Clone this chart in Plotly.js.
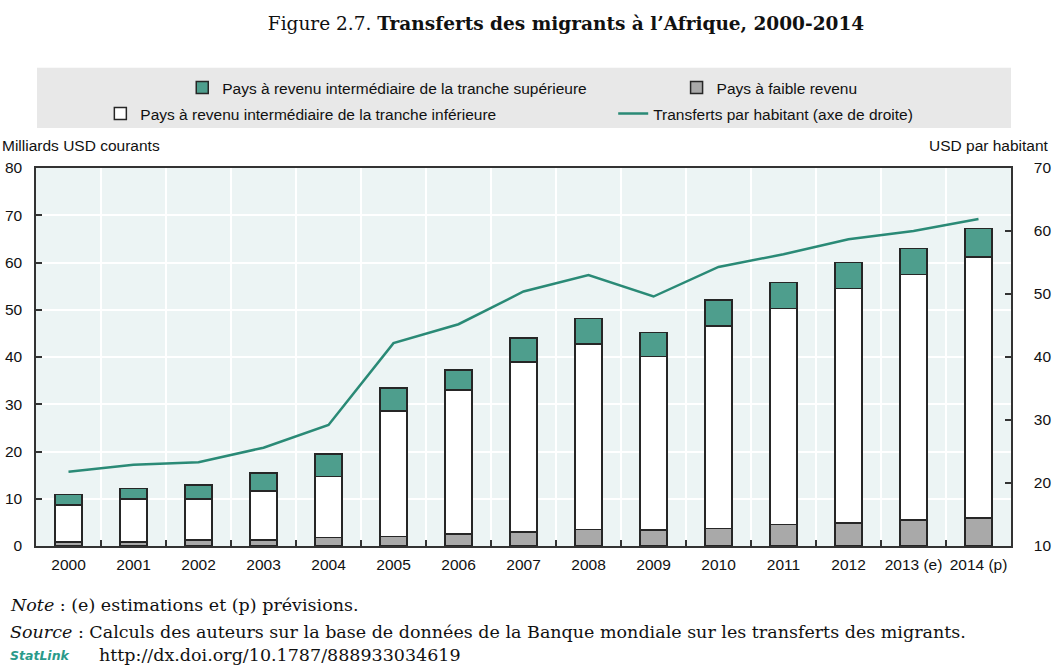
<!DOCTYPE html>
<html>
<head>
<meta charset="utf-8">
<script src="https://cdn.plot.ly/plotly-3.0.1.min.js"></script>
<style>html,body{margin:0;padding:0;background:#fff;} #chart{width:1054px;height:668px;}</style>
</head>
<body>
<div id="chart"></div>
<script>
// ---- Data ----
const years = ["2000","2001","2002","2003","2004","2005","2006","2007","2008","2009","2010","2011","2012","2013 (e)","2014 (p)"];
// Cumulative stack levels (billions USD)
const lowIncome      = [0.85, 0.9, 1.3, 1.3, 1.8, 2.0, 2.5, 3.0, 3.5, 3.4, 3.7, 4.6, 4.9, 5.5, 5.9];
const lowerMiddleTop = [8.7, 9.9, 9.9, 11.6, 14.7, 28.6, 33.0, 38.9, 42.8, 40.1, 46.6, 50.3, 54.5, 57.5, 61.2];
const totalTop       = [10.9, 12.2, 12.9, 15.4, 19.5, 33.4, 37.2, 44.0, 48.2, 45.2, 52.1, 55.8, 60.0, 63.0, 67.2];
// Remittances per capita (USD, right axis)
const perCapita      = [21.8, 22.9, 23.3, 25.6, 29.2, 42.2, 45.2, 50.4, 53.0, 49.6, 54.3, 56.3, 58.7, 60.0, 61.9];

const lowerMiddle = lowerMiddleTop.map((v, i) => +(v - lowIncome[i]).toFixed(2));
const upperMiddle = totalTop.map((v, i) => +(v - lowerMiddleTop[i]).toFixed(2));

const names = {
  upper: "Pays à revenu intermédiaire de la tranche supérieure",
  low: "Pays à faible revenu",
  lower: "Pays à revenu intermédiaire de la tranche inférieure",
  line: "Transferts par habitant (axe de droite)"
};

const C = { teal: "#4e9e8d", gray: "#a9a9a9", line: "#2a8a76", outline: "#262626", bg: "#ecf4f4", text: "#111111" };
const sansF = "'Liberation Sans', Arial, sans-serif";
const serifF = "'DejaVu Serif', 'Liberation Serif', serif";

const barOutline = { color: C.outline, width: 1.5 };
const traces = [
  { type: "bar", x: years, y: lowIncome, name: names.low, marker: { color: C.gray, line: barOutline }, legend: "legend2" },
  { type: "bar", x: years, y: lowerMiddle, name: names.lower, marker: { color: "#ffffff", line: barOutline }, legend: "legend3" },
  { type: "bar", x: years, y: upperMiddle, name: names.upper, marker: { color: C.teal, line: barOutline }, legend: "legend" },
  { type: "scatter", mode: "lines", x: years, y: perCapita, yaxis: "y2", name: names.line, line: { color: C.line, width: 2.5 }, legend: "legend4" }
];

const legFont = { family: sansF, size: 15.5, color: C.text };
function leg(x, y) {
  return { orientation: "h", x: x, xanchor: "left", y: y, yanchor: "middle", bgcolor: "rgba(0,0,0,0)", font: legFont };
}
const tickF = { family: sansF, size: 15.5, color: C.text };
const noteF = { family: serifF, size: 17.5, color: C.text };

const layout = {
  width: 1054, height: 668,
  margin: { l: 36, r: 43, t: 168, b: 122 },
  paper_bgcolor: "#ffffff",
  plot_bgcolor: C.bg,
  barmode: "stack",
  bargap: 0.58,
  showlegend: true,
  title: {
    text: "Figure 2.7. <b>Transferts des migrants à l’Afrique, 2000-2014</b>",
    font: { family: serifF, size: 18.5, color: C.text },
    x: 0.537, xanchor: "center", xref: "container",
    y: 0.965, yanchor: "middle", yref: "container"
  },
  legend: leg(0.150, 1.2116),
  legend2: leg(0.657, 1.2116),
  legend3: leg(0.066, 1.143),
  legend4: leg(0.592, 1.143),
  xaxis: {
    type: "category",
    tickson: "boundaries",
    tickangle: 0,
    ticks: "inside", ticklen: 6, tickcolor: "#333", tickwidth: 1.5,
    showgrid: true, gridcolor: "#ffffff", gridwidth: 1.5,
    showline: true, linecolor: "#333", linewidth: 1.5, mirror: true,
    tickfont: tickF, ticklabelstandoff: 4
  },
  yaxis: {
    range: [0, 80], dtick: 10, tick0: 0,
    ticks: "inside", ticklen: 6, tickcolor: "#333", tickwidth: 1.5,
    showgrid: true, gridcolor: "#ffffff", gridwidth: 1.5,
    zeroline: false,
    showline: true, linecolor: "#333", linewidth: 1.5, mirror: true,
    tickfont: tickF, ticklabelstandoff: 9
  },
  yaxis2: {
    range: [10, 70], dtick: 10, tick0: 10,
    overlaying: "y", side: "right",
    ticks: "inside", ticklen: 6, tickcolor: "#333", tickwidth: 1.5,
    showgrid: false, zeroline: false,
    showline: true, linecolor: "#333", linewidth: 1.5,
    tickfont: tickF, ticklabelstandoff: 18
  },
  shapes: [
    { type: "rect", xref: "paper", yref: "paper", x0: 0.001, x1: 1.0, y0: 1.106, y1: 1.265,
      fillcolor: "#e8e8e8", line: { width: 0 }, layer: "below" }
  ],
  annotations: [
    { text: "Milliards USD courants", xref: "paper", yref: "paper", x: -0.037, y: 1.06, xanchor: "left", yanchor: "middle",
      showarrow: false, font: tickF },
    { text: "USD par habitant", xref: "paper", yref: "paper", x: 1.041, y: 1.06, xanchor: "right", yanchor: "middle",
      showarrow: false, font: tickF },
    { text: "<i>Note</i> : (e) estimations et (p) prévisions.", xref: "paper", yref: "paper", x: -0.029, y: -0.156,
      xanchor: "left", yanchor: "middle", showarrow: false, font: noteF },
    { text: "<i>Source</i> : Calculs des auteurs sur la base de données de la Banque mondiale sur les transferts des migrants.",
      xref: "paper", yref: "paper", x: -0.029, y: -0.228, xanchor: "left", yanchor: "middle", showarrow: false,
      font: noteF },
    { text: "<i><b>StatLink</b></i>", xref: "paper", yref: "paper", x: -0.029, y: -0.289, xanchor: "left", yanchor: "middle",
      showarrow: false, font: { family: "'DejaVu Sans', sans-serif", size: 12.5, color: "#2a9a8a" } },
    { text: "http://dx.doi.org/10.1787/888933034619", xref: "paper", yref: "paper", x: 0.063, y: -0.289,
      xanchor: "left", yanchor: "middle", showarrow: false, font: noteF }
  ]
};

Plotly.newPlot("chart", traces, layout, { displayModeBar: false, responsive: false });
</script>
</body>
</html>
